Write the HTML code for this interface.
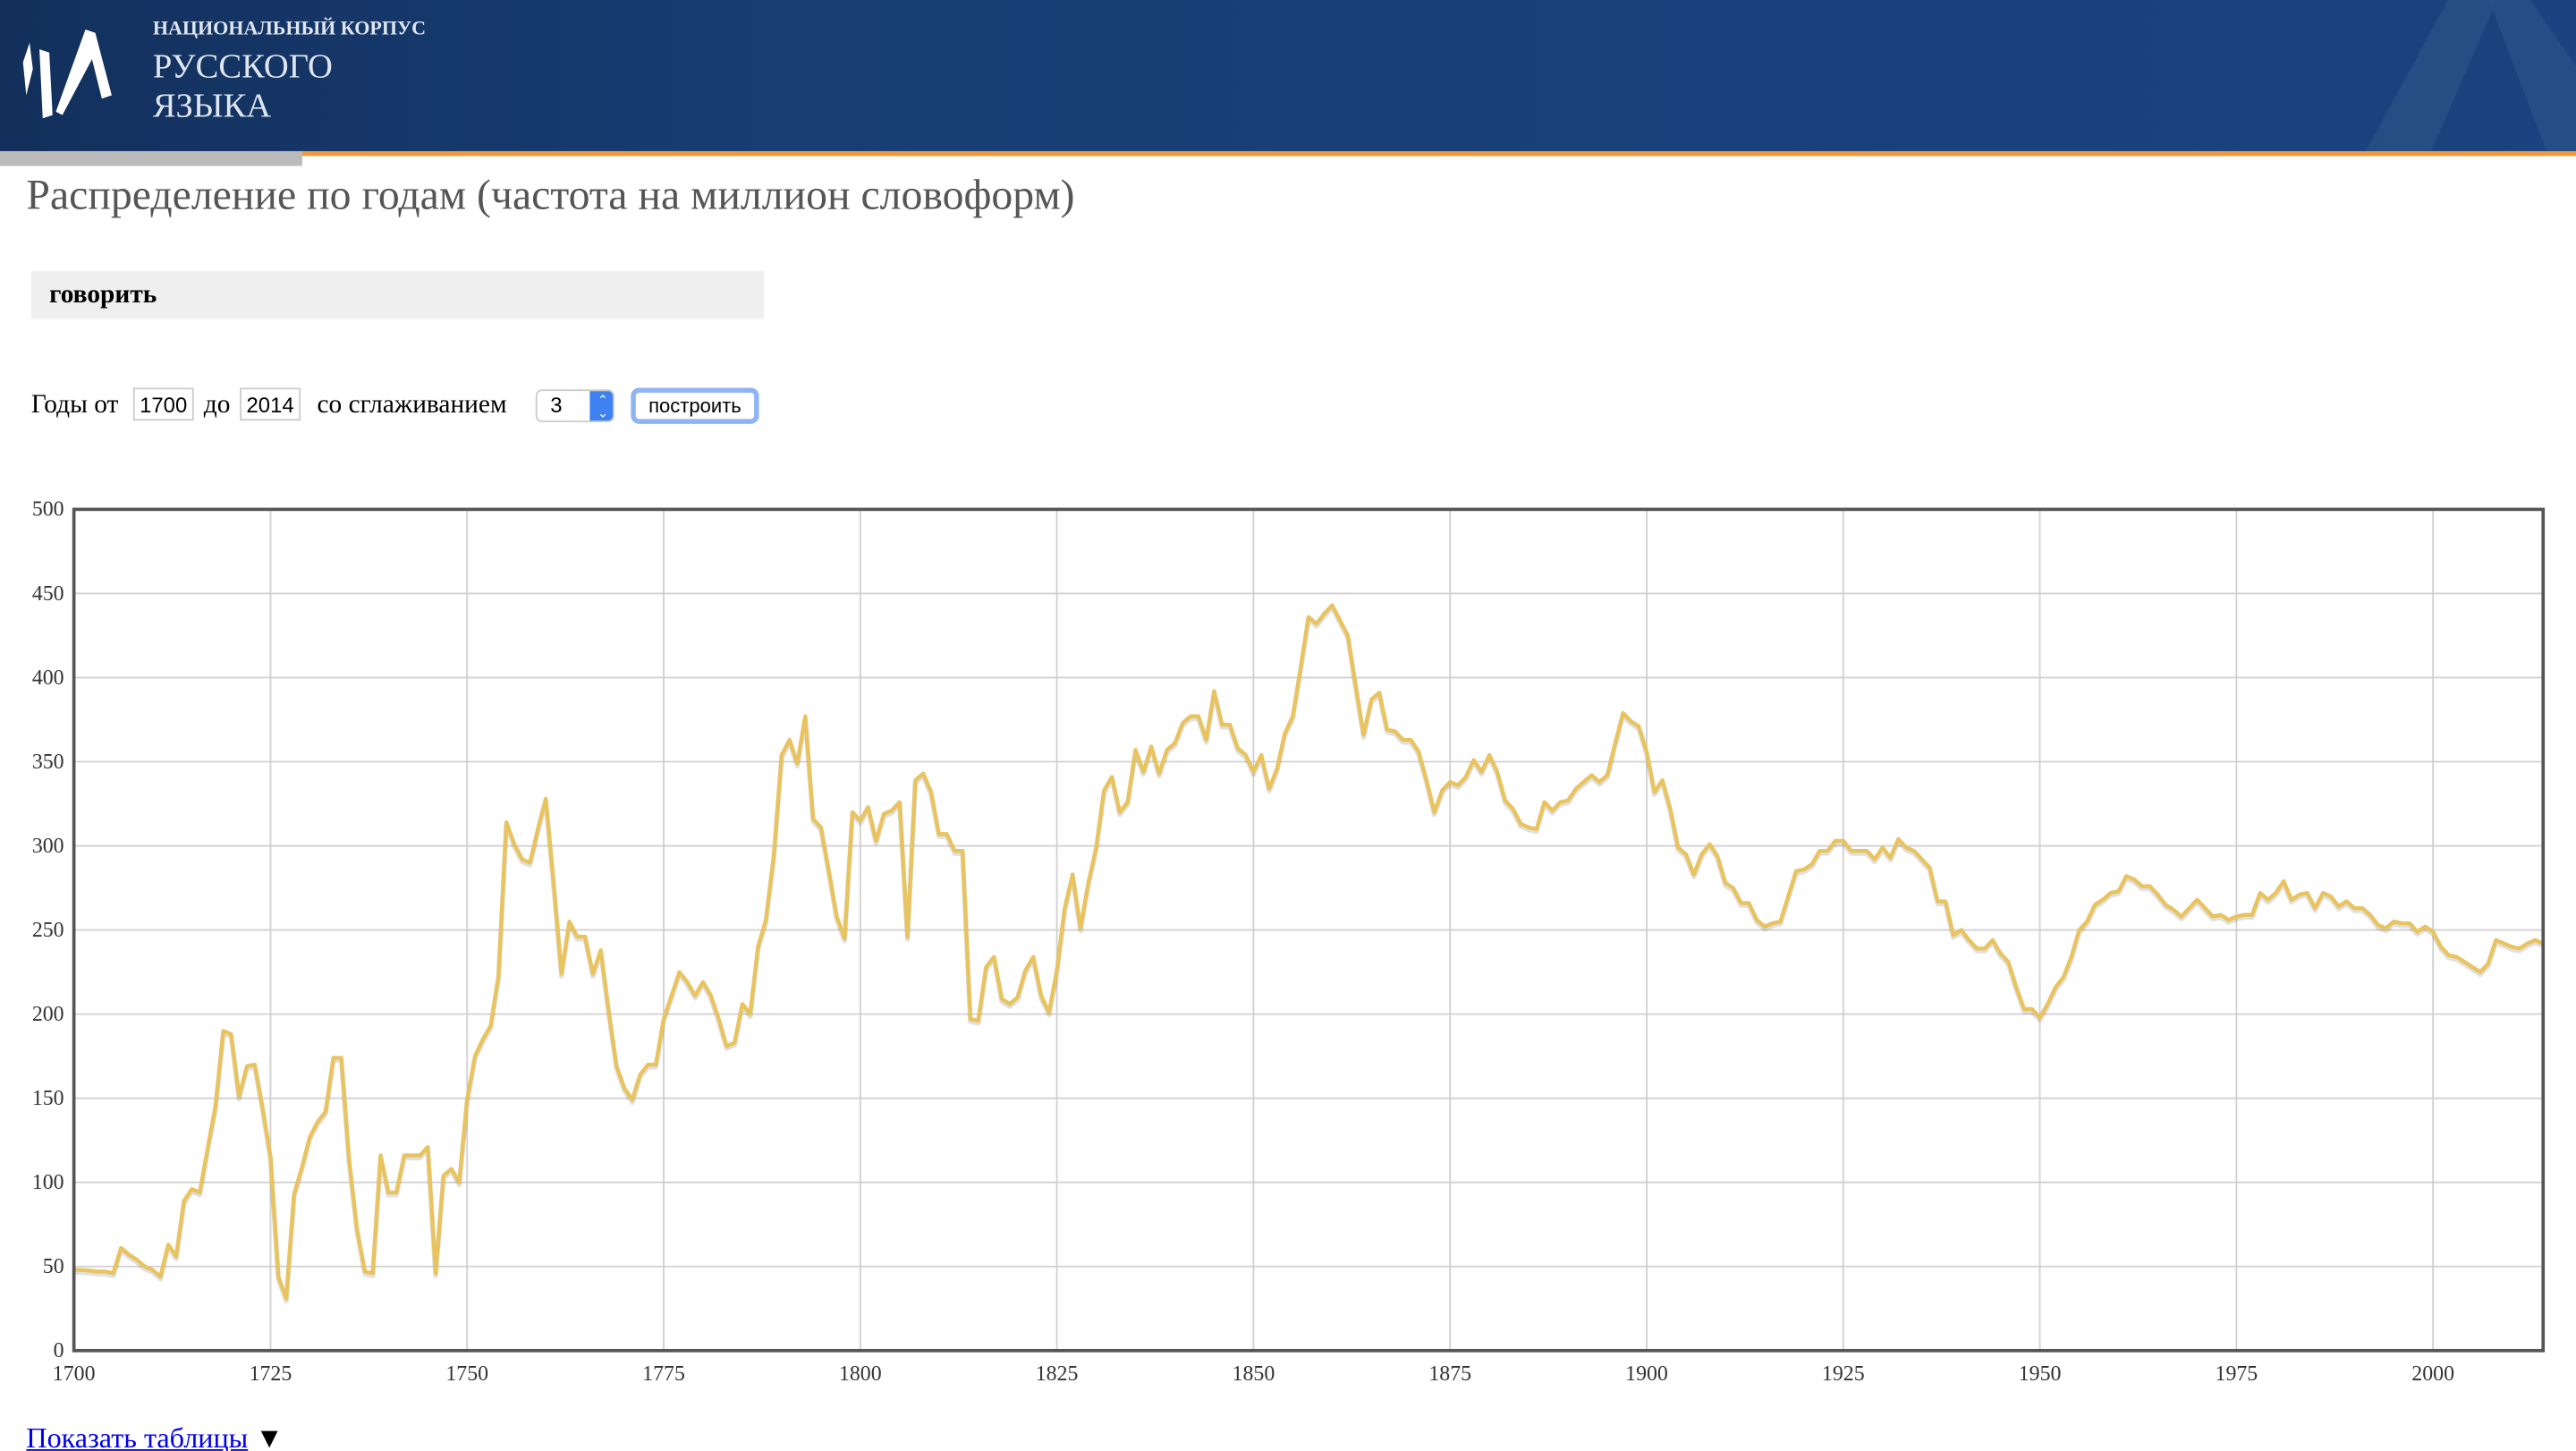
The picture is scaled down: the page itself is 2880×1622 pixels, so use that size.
<!DOCTYPE html>
<html><head><meta charset="utf-8">
<style>
html,body{margin:0;padding:0;background:#fff;overflow:hidden}
body{width:2880px;height:1622px}
#wrap{width:1568px;height:883px;transform:scale(1.83673);transform-origin:0 0;position:relative;font-family:"Liberation Serif","Noto Serif CJK SC",serif}
.abs{position:absolute}
#header{left:0;top:0;width:1568px;height:92px;background:linear-gradient(90deg,#13305c 0%,#173d74 30%,#1a437f 100%);overflow:hidden}
#orange{left:184px;top:92px;width:1384px;height:3px;background:#ef9a3a}
#grayb{left:0;top:92px;width:184px;height:9px;background:#bbbbbb}
.ht{color:#dfe6f0;position:absolute;left:93px;white-space:nowrap}
.inp{position:absolute;top:236px;height:20px;border:1px solid #ccc;font-family:"Liberation Sans",sans-serif;font-size:13px;line-height:20px;padding-left:3px;box-sizing:border-box;color:#000}
.lbl{position:absolute;top:238px;font-size:16px;color:#000}
</style></head>
<body>
<div id="wrap">
 <div class="abs" id="header">
  <svg class="abs" style="left:8px;top:12px" width="66" height="64">
   <path d="M6 26 L10 14 L12 30 L8 46 Z" fill="#fff"/>
   <path d="M16 18 L22 20 L24 58 L18 60 Z" fill="#fff"/>
   <path d="M44 6 L50 8 L60 46 L54 48 L48 24 L30 58 L26 56 Z" fill="#fff"/>
  </svg>
  <div class="ht" style="top:10px;font-size:12px;font-weight:bold">НАЦИОНАЛЬНЫЙ КОРПУС</div>
  <div class="ht" style="top:28px;font-size:21px">РУССКОГО</div>
  <div class="ht" style="top:52px;font-size:21px">ЯЗЫКА</div>
  <svg class="abs" style="left:1420px;top:0" width="148" height="92">
   <path d="M20 92 L70 0 L100 0 L60 92 Z" fill="#2a5288" opacity="0.7"/>
   <path d="M95 0 L130 92 L148 92 L148 40 L120 0 Z" fill="#2a5288" opacity="0.7"/>
  </svg>
 </div>
 <div class="abs" id="orange"></div>
 <div class="abs" id="grayb"></div>

 <div class="abs" style="left:16px;top:104px;font-size:26px;color:#555;white-space:nowrap">Распределение по годам (частота на миллион словоформ)</div>

 <div class="abs" style="left:19px;top:165px;width:446px;height:29px;background:#efefef">
  <div style="position:absolute;left:11px;top:6px;font-size:16px;font-weight:bold;color:#000">говорить</div>
 </div>

 <div class="lbl" style="left:19px">Годы от</div>
 <div class="inp" style="left:81px;width:37px">1700</div>
 <div class="lbl" style="left:124px">до</div>
 <div class="inp" style="left:146px;width:37px">2014</div>
 <div class="lbl" style="left:193px">со сглаживанием</div>
 <div class="abs" style="left:326px;top:237px;width:48px;height:20px;border:1px solid #ccc;border-radius:4px;box-sizing:border-box;overflow:hidden;font-family:'Liberation Sans',sans-serif;font-size:13px;line-height:18px;background:#fff">
  <span style="position:absolute;left:8px">3</span>
  <div style="position:absolute;left:32px;top:0;width:16px;height:20px;background:#3d82f0;color:#fff;font-size:8px;line-height:8px;text-align:center;padding-top:2px;box-sizing:border-box">⌃<br>⌄</div>
 </div>
 <div class="abs" style="left:384px;top:236px;width:78px;height:22px;border:3px solid #8fb4f5;border-radius:5px;box-sizing:border-box;background:#fff;font-family:'Liberation Sans',sans-serif;font-size:12px;line-height:16px;text-align:center;color:#000">построить</div>

 <svg class="abs" style="left:0;top:290px" width="1568" height="560" id="chart"></svg>

 <div class="abs" style="left:16px;top:865px;font-size:17.5px;white-space:nowrap"><span style="color:#0000ee;text-decoration:underline">Показать таблицы</span> <span style="color:#000">▼</span></div>
</div>
<script>
const years = [];
for (let y = 1700; y <= 2014; y++) years.push(y);
const values = [48,48,47.6,47,47,46,61,57,54,50,48,44,63,56,89,96,94,120,145,190,188,151,169,170,144,115,44,31,93,109,127,136,142,174,174,113,72,47,46,116,94,94,116,116,116,121,46,104,108,100,
149,175,185,193,223,314,301,292,290,310,328,278,224,255,246,246,224,238,202,169,156,149,164,170,170,197,211,225,219,211,219,211,197,181,183,206,200,240,256,294,354,363,349,377,316,311,285,258,245,320,
315,323,303,319,321,326,246,339,343,332,307,307,297,297,197,196,228,234,209,206,210,226,234,211,201,226,263,283,251,278,299,333,341,320,326,357,344,359,343,357,361,373,377,377,363,392,372,372,358,354,
344,354,334,346,367,377,406,436,432,438,443,434,425,395,366,387,391,369,368,363,363,356,339,320,333,338,336,341,351,344,354,344,327,322,313,311,310,326,321,326,327,334,338,342,338,342,361,379,374,371,
356,332,339,322,299,295,283,295,301,294,278,275,266,266,256,252,254,255,270,285,286,289,297,297,303,303,297,297,297,292,299,293,304,299,297,292,287,267,267,247,250,244,239,239,244,236,231,216,203,203,
198,206,216,222,234,250,255,265,268,272,273,282,280,276,276,271,265,262,258,263,268,263,258,259,256,258,259,259,272,268,272,279,268,271,272,263,272,270,264,267,263,263,259,253,251,255,254,254,249,252,
249,240,235,234,231,228,225,230,244,242,240,239,242,244,242];
const yTicks = [0,50,100,150,200,250,300,350,400,450,500];
const xTicks = [1700,1725,1750,1775,1800,1825,1850,1875,1900,1925,1950,1975,2000];

const svg = document.getElementById('chart');
const NS = 'http://www.w3.org/2000/svg';
const L = 45, R = 1548, T = 20, B = 532;
const x = v => L + (v - 1700) / (2014 - 1700) * (R - L);
const y = v => B - v / 500 * (B - T);
function mk(tag, attrs) { const e = document.createElementNS(NS, tag); for (const k in attrs) e.setAttribute(k, attrs[k]); svg.appendChild(e); return e; }

yTicks.forEach(t => {
  const g = mk('line', {x1: L, x2: R, y1: y(t), y2: y(t), stroke: '#d0d0d0', 'stroke-width': 1});
  
  
  const tx = mk('text', {x: 39, y: y(t) + 4, 'text-anchor': 'end', 'font-size': 13, fill: '#333', 'font-family': 'Liberation Serif, serif'});
  tx.textContent = t;
  
  
});
xTicks.forEach(t => {
  const g = mk('line', {x1: x(t), x2: x(t), y1: T, y2: B, stroke: '#d0d0d0', 'stroke-width': 1});
  
  
  const tx = mk('text', {x: x(t), y: B + 18, 'text-anchor': 'middle', 'font-size': 13, fill: '#333', 'font-family': 'Liberation Serif, serif'});
  tx.textContent = t;
  
  
});
const pts = years.map((yr, i) => x(yr).toFixed(2) + ',' + y(values[i]).toFixed(2)).join(' ');
const sh = mk('polyline', {points: pts, fill: 'none', stroke: 'rgba(0,0,0,0.12)', 'stroke-width': 3, transform: 'translate(0,1.5)', 'stroke-linejoin': 'round'});


const ln = mk('polyline', {points: pts, fill: 'none', stroke: '#e8c35e', 'stroke-width': 2.4, 'stroke-linejoin': 'round'});


const fr = mk('rect', {x: L, y: T, width: R - L, height: B - T, fill: 'none', stroke: '#555', 'stroke-width': 2});


</script>
</body></html>
